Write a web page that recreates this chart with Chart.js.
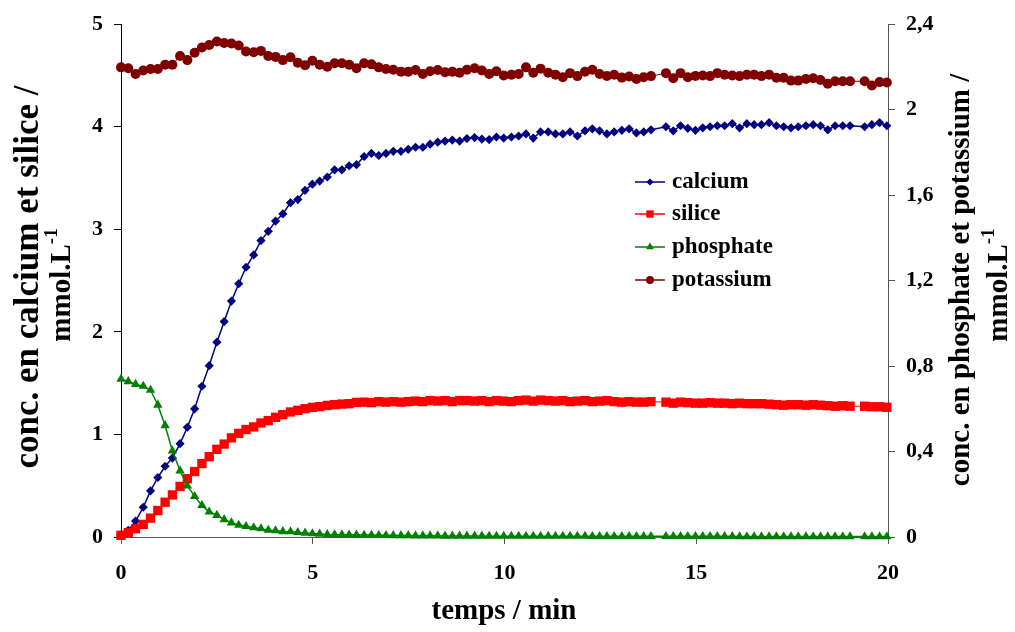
<!DOCTYPE html>
<html>
<head>
<meta charset="utf-8">
<script src="https://cdn.jsdelivr.net/npm/chart.js@4/dist/chart.umd.min.js"></script>
<style>
  html, body { margin: 0; padding: 0; background: #fff; }
  canvas { display: block; }
</style>
</head>
<body>
<canvas id="c" width="1015" height="632"></canvas>
<script>
// temps en min (deux mesures manquantes vers 14 et 19,2 min)
const temps = [0, 0.19, 0.38, 0.58, 0.77, 0.96, 1.15, 1.34, 1.54, 1.73,
  1.92, 2.11, 2.30, 2.50, 2.69, 2.88, 3.07, 3.26, 3.46, 3.65,
  3.84, 4.03, 4.22, 4.42, 4.61, 4.80, 4.99, 5.18, 5.38, 5.57,
  5.76, 5.95, 6.14, 6.34, 6.53, 6.72, 6.91, 7.10, 7.30, 7.49,
  7.68, 7.87, 8.06, 8.26, 8.45, 8.64, 8.83, 9.02, 9.22, 9.41,
  9.60, 9.79, 9.98, 10.18, 10.37, 10.56, 10.75, 10.94, 11.14, 11.33,
  11.52, 11.71, 11.90, 12.10, 12.29, 12.48, 12.67, 12.86, 13.06, 13.25,
  13.44, 13.63, 13.82,
  14.21, 14.40, 14.59, 14.78, 14.98, 15.17,
  15.36, 15.55, 15.74, 15.94, 16.13, 16.32, 16.51, 16.70, 16.90, 17.09,
  17.28, 17.47, 17.66, 17.86, 18.05, 18.24, 18.43, 18.62, 18.82, 19.01,
  19.39, 19.58, 19.78, 19.97];

// axe gauche (mmol/L)
const calcium = [0.02, 0.065, 0.155, 0.29, 0.45, 0.58, 0.69, 0.77, 0.91, 1.07,
  1.25, 1.47, 1.67, 1.90, 2.10, 2.30, 2.47, 2.63, 2.75, 2.89,
  2.98, 3.08, 3.15, 3.26, 3.29, 3.38, 3.44, 3.47, 3.51, 3.58,
  3.58, 3.62, 3.63, 3.71, 3.74, 3.72, 3.74, 3.76, 3.76, 3.78,
  3.80, 3.80, 3.83, 3.85, 3.86, 3.87, 3.86, 3.885, 3.895, 3.88,
  3.875, 3.90, 3.89, 3.90, 3.91, 3.93, 3.89, 3.95, 3.95, 3.93,
  3.93, 3.95, 3.91, 3.96, 3.98, 3.96, 3.93, 3.95, 3.965, 3.98,
  3.94, 3.95, 3.97,
  4.00, 3.96, 4.01, 3.985, 3.965, 3.99,
  4.00, 4.01, 4.01, 4.03, 3.99, 4.03, 4.02, 4.02, 4.04, 4.01,
  4.00, 3.99, 4.00, 4.01, 4.02, 4.01, 3.97, 4.01, 4.01, 4.01,
  4.00, 4.02, 4.04, 4.01];

const silice = [0.016, 0.042, 0.081, 0.123, 0.184, 0.258, 0.339, 0.41, 0.493, 0.568,
  0.638, 0.716, 0.783, 0.855, 0.906, 0.967, 1.01, 1.048, 1.073, 1.112,
  1.135, 1.167, 1.193, 1.219, 1.235, 1.251, 1.264, 1.271, 1.283, 1.29,
  1.296, 1.30, 1.312, 1.315, 1.31, 1.32, 1.315, 1.32, 1.315, 1.32,
  1.325, 1.32, 1.33, 1.325, 1.33, 1.32, 1.33, 1.33, 1.325, 1.33,
  1.32, 1.33, 1.325, 1.32, 1.33, 1.335, 1.325, 1.335, 1.33, 1.325,
  1.33, 1.32, 1.325, 1.33, 1.32, 1.325, 1.33, 1.32, 1.315, 1.32,
  1.315, 1.315, 1.32,
  1.315, 1.305, 1.315, 1.31, 1.305, 1.305,
  1.31, 1.305, 1.305, 1.30, 1.305, 1.30, 1.30, 1.30, 1.295, 1.29,
  1.285, 1.29, 1.29, 1.285, 1.29, 1.285, 1.28, 1.275, 1.28, 1.275,
  1.275, 1.27, 1.27, 1.265];

// axe droit (mmol/L)
const phosphate = [0.739, 0.728, 0.715, 0.706, 0.688, 0.618, 0.522, 0.403, 0.31, 0.24,
  0.19, 0.148, 0.118, 0.102, 0.082, 0.067, 0.056, 0.05, 0.044, 0.039,
  0.032, 0.03, 0.026, 0.025, 0.022, 0.019, 0.016, 0.014, 0.012, 0.011,
  0.011, 0.01, 0.01, 0.009, 0.009, 0.008, 0.008, 0.007, 0.007, 0.007,
  0.006, 0.006, 0.006, 0.006, 0.005, 0.005, 0.005, 0.005, 0.005, 0.005,
  0.004, 0.004, 0.004, 0.004, 0.004, 0.004, 0.004, 0.004, 0.004, 0.004,
  0.004, 0.004, 0.004, 0.004, 0.003, 0.003, 0.003, 0.003, 0.003, 0.003,
  0.003, 0.003, 0.003,
  0.003, 0.003, 0.003, 0.003, 0.003, 0.003,
  0.003, 0.003, 0.003, 0.003, 0.002, 0.002, 0.002, 0.002, 0.002, 0.002,
  0.002, 0.002, 0.002, 0.002, 0.002, 0.002, 0.002, 0.002, 0.002, 0.002,
  0.002, 0.002, 0.002, 0.002];

const potassium = [2.198, 2.194, 2.167, 2.183, 2.19, 2.19, 2.21, 2.21, 2.251, 2.232,
  2.266, 2.291, 2.303, 2.319, 2.312, 2.31, 2.30, 2.272, 2.269, 2.275,
  2.251, 2.247, 2.232, 2.245, 2.22, 2.208, 2.229, 2.21, 2.201, 2.217,
  2.217, 2.21, 2.194, 2.217, 2.212, 2.198, 2.19, 2.187, 2.178, 2.178,
  2.186, 2.167, 2.18, 2.186, 2.175, 2.178, 2.173, 2.187, 2.194, 2.183,
  2.167, 2.18, 2.16, 2.164, 2.167, 2.198, 2.173, 2.192, 2.173, 2.164,
  2.152, 2.171, 2.157, 2.178, 2.187, 2.167, 2.158, 2.163, 2.15, 2.155,
  2.144, 2.152, 2.157,
  2.171, 2.147, 2.171, 2.152, 2.158, 2.16,
  2.157, 2.171, 2.163, 2.16, 2.157, 2.163, 2.164, 2.157, 2.164, 2.149,
  2.149, 2.136, 2.136, 2.144, 2.147, 2.139, 2.121, 2.133, 2.133, 2.133,
  2.133, 2.113, 2.129, 2.127];

const xTickLabels = ['0', '5', '10', '15', '20'];
const leftTickLabels = ['0', '1', '2', '3', '4', '5'];
const rightTickLabels = ['0', '0,4', '0,8', '1,2', '1,6', '2', '2,4'];

const serif = '"Liberation Serif", "Times New Roman", serif';
Chart.defaults.font.family = serif;

function pts(vals) {
  return temps.map((t, i) => ({ x: t, y: vals[i] }));
}

const series = [
  { label: 'calcium', data: calcium, color: '#000080', style: 'rectRot', r: 4.6, w: 1.5, axis: 'yL', lr: 3.6 },
  { label: 'silice', data: silice, color: '#ff0000', style: 'rect', r: 6.6, w: 1, axis: 'yL', lr: 5.2 },
  { label: 'phosphate', data: phosphate, color: '#008000', style: 'triangle', r: 5.4, w: 1.5, axis: 'yR', lr: 4.6 },
  { label: 'potassium', data: potassium, color: '#800000', style: 'circle', r: 5, w: 1, axis: 'yR', lr: 4 }
];

function axisGrid(color) {
  return { display: true, drawOnChartArea: false, drawTicks: true, tickLength: 7, color: color, lineWidth: 1 };
}

const tickFont = { family: serif, size: 22, weight: 'bold' };

function drawRotated(ctx, x, y, main, sup, size) {
  ctx.save();
  ctx.translate(x, y);
  ctx.rotate(-Math.PI / 2);
  ctx.font = 'bold ' + size + 'px ' + serif;
  const w1 = ctx.measureText(main).width;
  let w2 = 0;
  const supFont = 'bold ' + Math.round(size * 0.65) + 'px ' + serif;
  if (sup) {
    ctx.font = supFont;
    w2 = ctx.measureText(sup).width;
  }
  const start = -(w1 + w2) / 2;
  ctx.textAlign = 'left';
  ctx.textBaseline = 'middle';
  ctx.font = 'bold ' + size + 'px ' + serif;
  ctx.fillText(main, start, 0);
  if (sup) {
    ctx.font = supFont;
    ctx.fillText(sup, start + w1, -size * 0.38);
  }
  ctx.restore();
}

const decor = {
  id: 'decor',
  afterDraw(chart) {
    const ctx = chart.ctx;
    ctx.save();
    ctx.fillStyle = '#000';
    // titres des axes
    drawRotated(ctx, 29, 277, 'conc. en calcium et silice /', null, 35);
    drawRotated(ctx, 63, 285, 'mmol.L', '-1', 29);
    drawRotated(ctx, 962, 280, 'conc. en phosphate et potassium /', null, 29);
    drawRotated(ctx, 1000, 285, 'mmol.L', '-1', 29);
    ctx.font = 'bold 29px ' + serif;
    ctx.textAlign = 'center';
    ctx.textBaseline = 'middle';
    ctx.fillText('temps / min', 504, 612);

    // légende
    const rows = [182, 214, 247, 280];
    series.forEach((s, i) => {
      const y = rows[i];
      ctx.strokeStyle = s.color;
      ctx.lineWidth = 1.5;
      ctx.beginPath();
      ctx.moveTo(635, y);
      ctx.lineTo(665, y);
      ctx.stroke();
      ctx.fillStyle = s.color;
      Chart.helpers.drawPoint(ctx, { pointStyle: s.style, radius: s.lr, borderWidth: 0, rotation: 0 }, 650, y);
      ctx.fillStyle = '#000';
      ctx.font = 'bold 23px ' + serif;
      ctx.textAlign = 'left';
      ctx.textBaseline = 'middle';
      ctx.fillText(s.label, 672, y);
    });
    ctx.restore();
  }
};

new Chart(document.getElementById('c'), {
  type: 'line',
  data: {
    datasets: series.map((s, i) => ({
      label: s.label,
      data: pts(s.data),
      yAxisID: s.axis,
      borderColor: s.color,
      backgroundColor: s.color,
      borderWidth: s.w,
      pointStyle: s.style,
      pointRadius: s.r,
      pointBorderWidth: 0,
      pointBackgroundColor: s.color,
      tension: 0,
      clip: false,
      order: 4 - i
    }))
  },
  options: {
    responsive: false,
    animation: false,
    layout: { padding: { top: 20, left: 0, right: 0, bottom: 0 } },
    plugins: { legend: { display: false }, tooltip: { enabled: false } },
    scales: {
      x: {
        type: 'linear',
        min: 0, max: 20,
        afterFit(scale) { scale.height = 95; },
        grid: axisGrid('#555'),
        border: { display: true, color: '#555', width: 1 },
        ticks: {
          stepSize: 5,
          padding: 16,
          color: '#000',
          font: tickFont,
          maxRotation: 0,
          callback: (v) => xTickLabels[Math.round(v / 5)]
        }
      },
      yL: {
        type: 'linear',
        position: 'left',
        min: 0, max: 5,
        afterFit(scale) { scale.width = 121; },
        grid: axisGrid('#000'),
        border: { display: true, color: '#000', width: 1 },
        ticks: {
          stepSize: 1,
          padding: 11,
          color: '#000',
          font: tickFont,
          callback: (v) => leftTickLabels[Math.round(v)]
        }
      },
      yR: {
        type: 'linear',
        position: 'right',
        min: 0, max: 2.4,
        afterFit(scale) { scale.width = 127; },
        grid: axisGrid('#555'),
        border: { display: true, color: '#555', width: 1 },
        ticks: {
          stepSize: 0.4,
          padding: 11,
          color: '#000',
          font: tickFont,
          callback: (v) => rightTickLabels[Math.round(v / 0.4)]
        }
      }
    }
  },
  plugins: [decor]
});
</script>
</body>
</html>
